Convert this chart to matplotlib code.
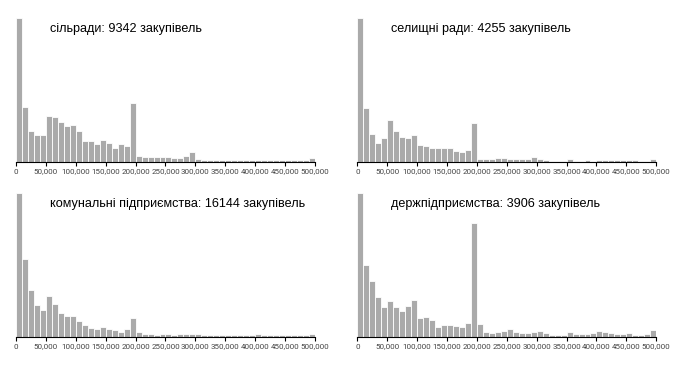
import numpy as np
import matplotlib.pyplot as plt

# межі кошиків: 0..500 000 з кроком 10 000
edges = np.arange(0, 510000, 10000)
ticks = np.arange(0, 550000, 50000)
tick_labels = ["{:,}".format(t) for t in ticks]

titles = [
    "сільради: 9342 закупівель",
    "селищні ради: 4255 закупівель",
    "комунальні підприємства: 16144 закупівель",
    "держпідприємства: 3906 закупівель",
]

# висоти стовпчиків (відносні)
silrady = [430, 165, 92, 81, 81, 136, 133, 118, 107, 110, 91, 63, 63, 52, 65, 57, 42, 52, 47, 175,
           17, 13, 13, 13, 13, 15, 11, 12, 18, 28, 8, 5, 5, 5, 6, 5, 5, 5, 5, 5,
           6, 5, 6, 5, 6, 5, 5, 5, 5, 10]
selyshchni = [430, 162, 84, 57, 72, 125, 93, 75, 70, 80, 50, 48, 42, 40, 40, 40, 32, 28, 34, 115,
              9, 9, 7, 10, 12, 9, 9, 9, 9, 13, 8, 4, 3, 3, 3, 7, 3, 3, 4, 3,
              6, 5, 4, 4, 5, 6, 4, 3, 3, 8]
komunalni = [430, 233, 140, 95, 80, 123, 98, 70, 62, 63, 47, 35, 27, 23, 29, 23, 19, 15, 22, 57,
             14, 8, 8, 6, 7, 9, 6, 8, 8, 9, 9, 5, 5, 5, 5, 6, 5, 6, 5, 4,
             7, 4, 4, 4, 4, 4, 4, 4, 4, 9]
derzh = [430, 215, 167, 120, 89, 108, 88, 77, 93, 109, 56, 58, 50, 30, 35, 34, 32, 28, 40, 342,
         37, 15, 12, 15, 17, 23, 14, 10, 10, 15, 17, 11, 5, 5, 5, 13, 8, 8, 7, 10,
         18, 14, 12, 7, 7, 11, 5, 5, 7, 19]

series = [silrady, selyshchni, komunalni, derzh]

# розташування панелей (частки фігури)
positions = [
    [0.0232, 0.5606, 0.4333, 0.39],
    [0.5178, 0.5606, 0.4333, 0.39],
    [0.0232, 0.0851, 0.4333, 0.39],
    [0.5178, 0.0851, 0.4333, 0.39],
]

fig = plt.figure(figsize=(6.9, 3.68), dpi=100)

for pos, vals, title in zip(positions, series, titles):
    ax = fig.add_axes(pos)
    ax.bar(edges[:-1], vals, width=10000, align='edge', color='#aaaaaa',
           edgecolor='white', linewidth=0.6)
    ax.set_xlim(0, 500000)
    ax.set_ylim(0, max(vals))
    for s in ['top', 'right', 'left']:
        ax.spines[s].set_visible(False)
    ax.spines['bottom'].set_color('black')
    ax.spines['bottom'].set_linewidth(0.8)
    ax.set_yticks([])
    ax.set_xticks(ticks)
    ax.set_xticklabels(tick_labels, fontsize=5.8, color='#444444', family='Roboto')
    ax.tick_params(axis='x', length=3, width=0.8, pad=2)
    ax.text(0.113, 0.925, title, transform=ax.transAxes, fontsize=9.1,
            family='Liberation Sans', color='black', va='center', ha='left')

fig.savefig('out.png', dpi=100)
